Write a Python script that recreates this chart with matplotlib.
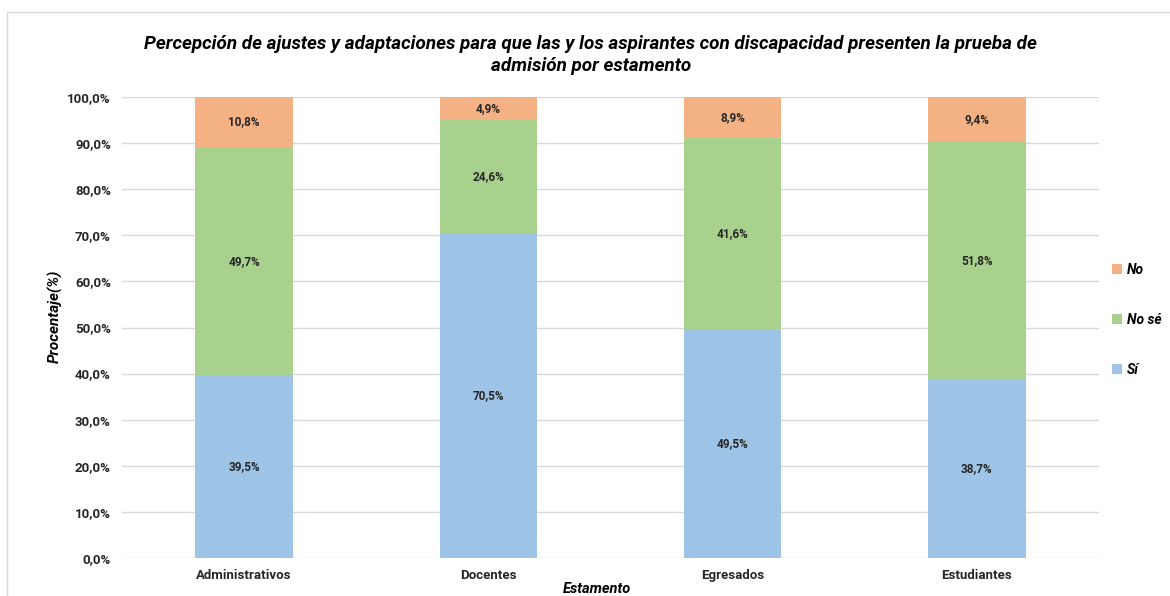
import numpy as np
import matplotlib
matplotlib.use("Agg")
import matplotlib.pyplot as plt
from matplotlib.patches import Rectangle

plt.rcParams['font.family'] = ['Roboto', 'DejaVu Sans']

# Datos por estamento
estamentos = ["Administrativos", "Docentes", "Egresados", "Estudiantes"]
si = [39.5, 70.5, 49.5, 38.7]
no_se = [49.7, 24.6, 41.6, 51.8]
no = [10.8, 4.9, 8.9, 9.4]
series = [("Sí", si, "#9DC3E6"), ("No sé", no_se, "#A9D18E"), ("No", no, "#F4B183")]

fig = plt.figure(figsize=(11.7, 5.96), dpi=100)
ax = fig.add_axes([122/1170, 38/596, (1099-122)/1170, 461/596])

# marco gris del grafico
fig.patches.append(Rectangle((7/1170, -0.1), 1.2, 0.1+(596-12)/596, transform=fig.transFigure,
                             fill=False, edgecolor="#D9D9D9", linewidth=1))

x = np.arange(len(estamentos))
base = np.zeros(len(estamentos))
handles = []
for nombre, vals, color in series:
    vals = np.array(vals)
    b = ax.bar(x, vals, 0.4, bottom=base, color=color, label=nombre, zorder=2)
    handles.append(b)
    for xi, v, b0 in zip(x, vals, base):
        ax.text(xi, b0 + v/2, f"{v:.1f}%".replace(".", ","), ha="center", va="center",
                fontsize=8.5, fontweight="bold", color="#262626")
    base = base + vals

ax.set_xlim(-0.5, 3.5)
ax.set_ylim(0, 100)
ax.set_yticks(np.arange(0, 101, 10))
ax.set_yticklabels([f"{t:.1f}%".replace(".", ",") for t in np.arange(0, 101, 10)],
                   fontsize=9.5, fontweight="bold", color="#262626")
ax.set_xticks(x)
ax.set_xticklabels(estamentos, fontsize=9.5, fontweight="bold", color="#262626")
ax.tick_params(length=0, pad=8)
ax.grid(axis="y", color="#D9D9D9", linewidth=1, zorder=0)
ax.set_axisbelow(True)
for s in ax.spines.values():
    s.set_visible(False)

fig.text(0.505, 1 - 55/596, "Percepción de ajustes y adaptaciones para que las y los aspirantes con discapacidad presenten la prueba de\nadmisión por estamento",
         ha="center", va="center", fontsize=13.6, fontweight="bold", fontstyle="italic", linespacing=1.3)
fig.text(597/1170, 1 - 589/596, "Estamento", ha="center", va="center",
         fontsize=10.5, fontweight="bold", fontstyle="italic")
fig.text(55/1170, 1 - 316/596, "Procentaje(%)", ha="center", va="center", rotation=90,
         fontsize=11, fontweight="bold", fontstyle="italic")

leg = fig.legend(handles[::-1], [s[0] for s in series][::-1], loc="center left",
                 bbox_to_anchor=(1112/1170, 1 - 320/596), frameon=False, borderpad=0,
                 borderaxespad=0,
                 prop={"weight": "bold", "style": "italic", "size": 10},
                 handlelength=0.7, handleheight=0.7, labelspacing=2.6, handletextpad=0.4)

fig.savefig("out.png", dpi=100)
